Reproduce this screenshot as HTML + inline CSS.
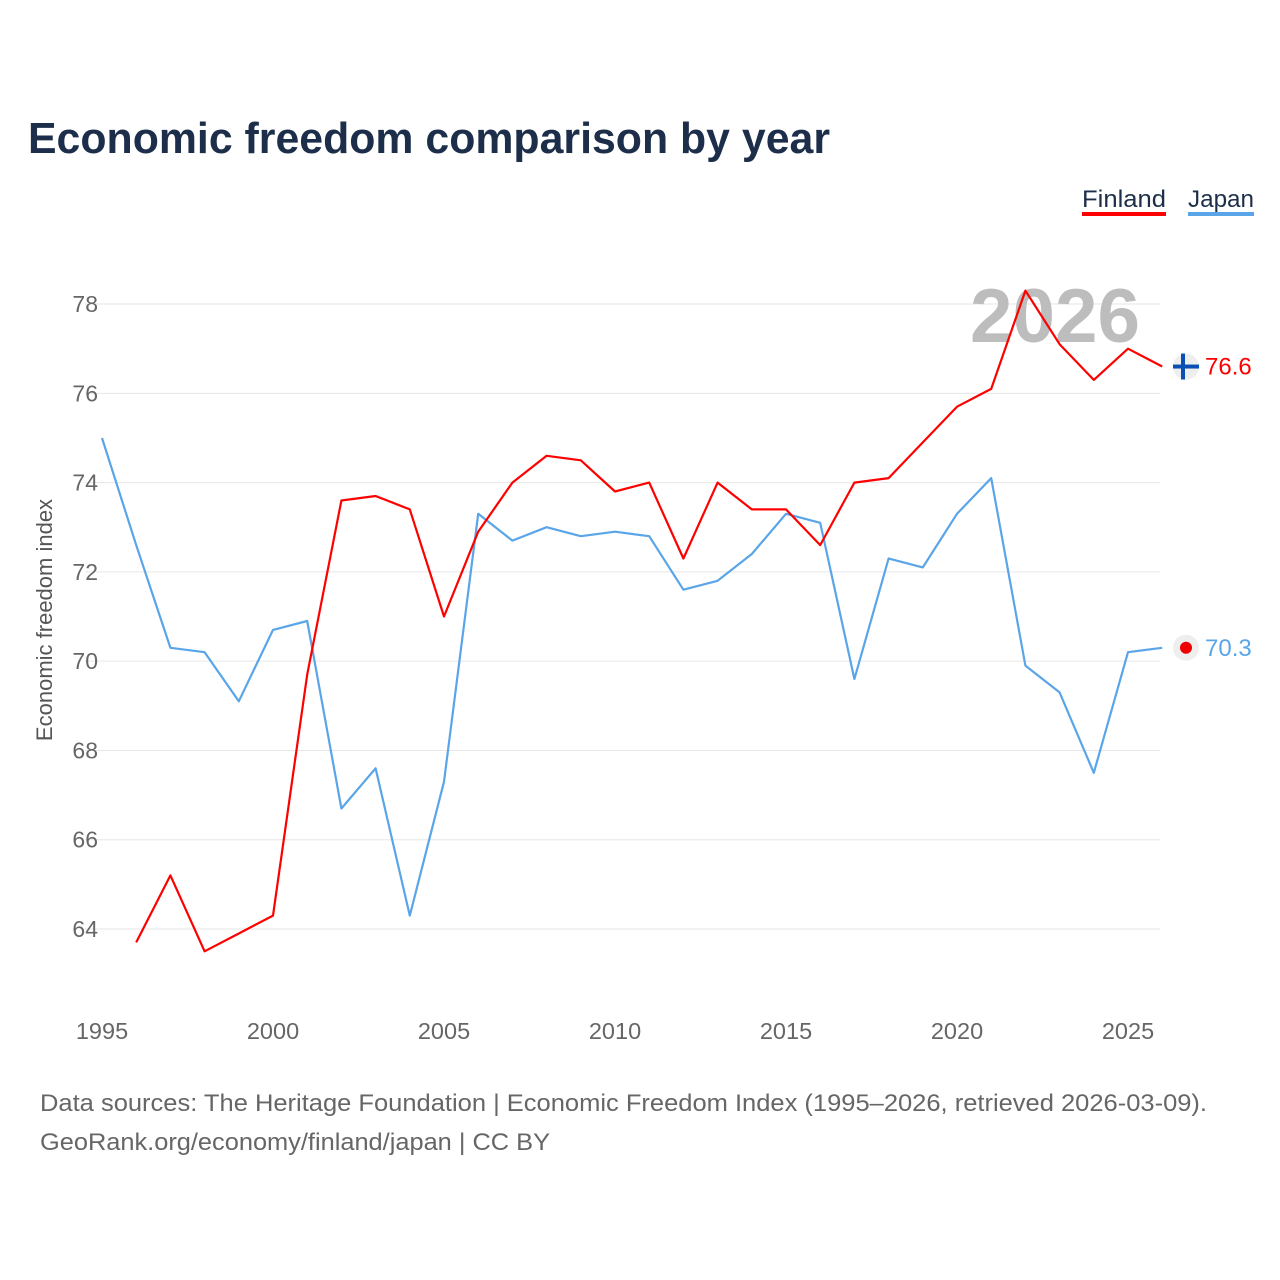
<!DOCTYPE html>
<html><head><meta charset="utf-8">
<style>
body{margin:0;background:#fff;font-family:"Liberation Sans",sans-serif;}
svg{display:block}
</style></head>
<body>
<svg id="chart" width="1280" height="1280" viewBox="0 0 1280 1280">
<text x="28" y="153" font-size="44" font-weight="bold" fill="#1c2e4a" textLength="802" lengthAdjust="spacingAndGlyphs">Economic freedom comparison by year</text>
<g>
<text x="1082" y="207" font-size="24" fill="#1c2e4a" textLength="84" lengthAdjust="spacingAndGlyphs">Finland</text>
<rect x="1082" y="212" width="84" height="4" fill="#ff0000"/>
<text x="1188" y="207" font-size="24" fill="#1c2e4a" textLength="66" lengthAdjust="spacingAndGlyphs">Japan</text>
<rect x="1188" y="212" width="66" height="4" fill="#5aa5e8"/>
</g>
<g id="grid"></g>
<text x="970" y="342" font-size="76" font-weight="bold" fill="#bdbdbd" textLength="170" lengthAdjust="spacingAndGlyphs">2026</text>
<g id="series"></g>
<text transform="translate(52,620) rotate(-90)" font-size="22" fill="#555" text-anchor="middle">Economic freedom index</text>
<text x="40" y="1111" font-size="24" fill="#666" textLength="1167" lengthAdjust="spacingAndGlyphs">Data sources: The Heritage Foundation | Economic Freedom Index (1995–2026, retrieved 2026-03-09).</text>
<text x="40" y="1150" font-size="24" fill="#666" textLength="510" lengthAdjust="spacingAndGlyphs">GeoRank.org/economy/finland/japan | CC BY</text>
</svg>
<script>
const years=[1995,1996,1997,1998,1999,2000,2001,2002,2003,2004,2005,2006,2007,2008,2009,2010,2011,2012,2013,2014,2015,2016,2017,2018,2019,2020,2021,2022,2023,2024,2025,2026];
const finland=[null,63.7,65.2,63.5,63.9,64.3,69.7,73.6,73.7,73.4,71.0,72.9,74.0,74.6,74.5,73.8,74.0,72.3,74.0,73.4,73.4,72.6,74.0,74.1,74.9,75.7,76.1,78.3,77.1,76.3,77.0,76.6];
const japan=[75.0,72.6,70.3,70.2,69.1,70.7,70.9,66.7,67.6,64.3,67.3,73.3,72.7,73.0,72.8,72.9,72.8,71.6,71.8,72.4,73.3,73.1,69.6,72.3,72.1,73.3,74.1,69.9,69.3,67.5,70.2,70.3];
const yTicks=[64,66,68,70,72,74,76,78];
const xTicks=[1995,2000,2005,2010,2015,2020,2025];
const NS="http://www.w3.org/2000/svg";
const xs=y=>102+(y-1995)*34.2;
const ys=v=>929-(v-64)*44.64;
const grid=document.getElementById('grid'),ser=document.getElementById('series');
function mk(tag,at,par){const e=document.createElementNS(NS,tag);for(const k in at)e.setAttribute(k,at[k]);par.appendChild(e);return e;}
yTicks.forEach(t=>{
 const l=mk('line',{x1:85,x2:1160,y1:ys(t),y2:ys(t),stroke:'#e6e6e6','stroke-width':1},grid);
 
 
 const tx=mk('text',{x:98,y:ys(t)+8,'font-size':23,fill:'#666','text-anchor':'end'},grid);
 tx.textContent=t;
 
 
});
xTicks.forEach(t=>{
 const tx=mk('text',{x:xs(t),y:1039,'font-size':23.5,fill:'#666','text-anchor':'middle'},grid);
 tx.textContent=t;
 
 
});
function line(vals,color,name){
 let d='';let started=false;
 vals.forEach((v,i)=>{if(v==null)return;d+=(started?'L':'M')+xs(years[i]).toFixed(1)+','+ys(v).toFixed(1);started=true;});
 const p=mk('path',{d:d,fill:'none',stroke:color,'stroke-width':2.2,'stroke-linejoin':'round'},ser);
 
 
}
line(japan,'#5aa5e8','line-japan');
line(finland,'#ff0000','line-finland');
const fl=finland[finland.length-1],jl=japan[japan.length-1];
const ex=1186;
const c1=mk('circle',{cx:ex,cy:ys(fl),r:13,fill:'#eee'},ser);


const f1=mk('rect',{x:ex-13,y:ys(fl)-2,width:26,height:4,fill:'#0a4fb3'},ser);


const f2=mk('rect',{x:ex-5,y:ys(fl)-13,width:4,height:26,fill:'#0a4fb3'},ser);


const c2=mk('circle',{cx:ex,cy:ys(jl),r:13,fill:'#eee'},ser);


const c3=mk('circle',{cx:ex,cy:ys(jl),r:6,fill:'#ee0000'},ser);


const t1=mk('text',{x:1205,y:ys(fl)+8,'font-size':24,fill:'#ff0000'},ser);
t1.textContent=fl.toFixed(1);


const t2=mk('text',{x:1205,y:ys(jl)+8,'font-size':24,fill:'#5aa5e8'},ser);
t2.textContent=jl.toFixed(1);


</script>
</body></html>
